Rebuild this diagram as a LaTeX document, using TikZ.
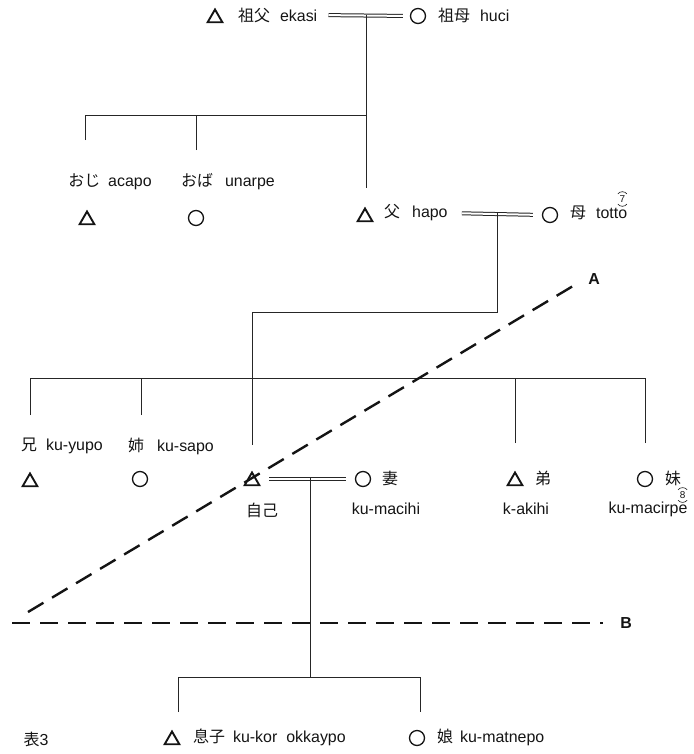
\documentclass[tikz,border=0pt]{standalone}
\usepackage{fontspec}
\setmainfont{Liberation Sans}
\newfontfamily\jpfont{Noto Sans CJK JP}
\newcommand{\jp}[1]{{\jpfont #1}}
\usetikzlibrary{shapes.geometric,calc}
\definecolor{cInk}{HTML}{141414}
\definecolor{cLine}{HTML}{262626}
\tikzset{
  male/.style   = {regular polygon, regular polygon sides=3, draw=cInk,
                   line width=1.9bp, minimum size=17bp, inner sep=0pt},
  female/.style = {circle, draw=cInk, line width=1.3bp, minimum size=15bp,
                   inner sep=0pt},
  lbl/.style    = {font=\fontsize{16}{18}\selectfont, text=cInk,
                   inner sep=0pt},
  kin/.style    = {draw=cLine, line width=0.9bp},
  marr/.style   = {draw=cLine, line width=1bp, double, double distance=2bp},
  cut/.style    = {draw=cInk, line width=2.4bp, dash pattern=on 18bp off 10bp},
  cutlbl/.style = {font=\bfseries\fontsize{16}{18}\selectfont, text=cInk},
  tie/.style    = {draw=cInk, line width=0.6bp},
  tiny/.style   = {font=\fontsize{10}{11}\selectfont, text=cInk,
                   inner sep=1.5bp},
}
\begin{document}
\begin{tikzpicture}[x=1bp, y=-1bp]
  \useasboundingbox (0,0) rectangle (694,754);
  % ---- grandparents ----
  \node[male] (gf) at (215,18) {};
  \node[lbl, anchor=west] (gfl) at (238,15) {\jp{祖父}\hspace{10bp}ekasi};
  \node[female] (gm) at (418,16) {};
  \node[lbl, anchor=west] (gml) at (438,15) {\jp{祖母}\hspace{10bp}huci};
  \draw[marr, shorten <=11bp, shorten >=7bp] (gfl.east) -- (gm.west);
  \coordinate (m1) at (366,15);
  % ---- uncle / aunt ----
  \node[lbl] (ul) at (110,182) {\jp{おじ}\hspace{8bp}acapo};
  \node[male] (u) at (87,220) {};
  \node[lbl] (al) at (228,182) {\jp{おば}\hspace{12bp}unarpe};
  \node[female] (a) at (196,218) {};
  \coordinate (j1) at (0,115);
  \coordinate (u1) at (85,140);
  \coordinate (a1) at (196,150);
  \coordinate (f1) at (0,188);
  \draw[kin] (m1) -- (m1|-f1);
  \draw[kin] (u1) -- (u1|-j1) -- (m1|-j1);
  \draw[kin] (a1) -- (a1|-j1);
  % ---- parents ----
  \node[male] (fa) at (365,217) {};
  \node[lbl, anchor=west] (fal) at (384,213) {\jp{父}\hspace{12bp}hapo};
  \node[female] (mo) at (550,215) {};
  \node[lbl, anchor=west] (mol) at (570,213) {\jp{母}\hspace{10bp}totto};
  \draw[marr, shorten <=14bp, shorten >=9bp] (fal.east) -- (mo.west);
  \coordinate (m2) at (497,213);
  \node[tiny] (n7) at ($(mol.east)+(-5,-14)$) {7};
  \draw[tie] ($(n7.north)+(-4.5,0)$) to[bend left=55] ($(n7.north)+(4.5,0)$);
  \draw[tie] ($(n7.south)+(-4.5,0)$) to[bend right=55] ($(n7.south)+(4.5,0)$);
  % ---- siblings ----
  \coordinate (sb) at (0,378);
  \coordinate (e1) at (30,415);
  \coordinate (e2) at (141,415);
  \coordinate (e3) at (515,443);
  \coordinate (e4) at (645,443);
  \coordinate (eu) at (252,445);
  \draw[kin] (m2) -- ++(0,99) -| (eu);
  \draw[kin] (e1|-sb) -- (e4|-sb);
  \foreach \c in {e1,e2,e3,e4}
    \draw[kin] (\c) -- (\c|-sb);
  \node[lbl] (bl) at (62,446) {\jp{兄}\hspace{9bp}ku-yupo};
  \node[male] (br) at (30,482) {};
  \node[lbl] (sl) at (171,446) {\jp{姉}\hspace{13bp}ku-sapo};
  \node[female] (si) at (140,479) {};
  % ego and wife
  \node[male] (ego) at (252,481) {};
  \node[lbl] (egol) at (262,510) {\jp{自己}};
  \node[female] (wi) at (363,479) {};
  \node[lbl, anchor=west] (wil) at (382,478) {\jp{妻}};
  \node[lbl] (wil2) at (386,509) {ku-macihi};
  \draw[marr, shorten <=11bp, shorten >=9bp] (ego.east|-wi) -- (wi.west);
  \coordinate (m3) at (310,477);
  % younger brother / sister
  \node[male] (yb) at (515,481) {};
  \node[lbl, anchor=west] (ybl) at (535,478) {\jp{弟}};
  \node[lbl] (ybl2) at (526,509) {k-akihi};
  \node[female] (ys) at (645,479) {};
  \node[lbl, anchor=west] (ysl) at (665,478) {\jp{妹}};
  \node[lbl] (ysl2) at (648,509) {ku-macirpe};
  \node[tiny] (n8) at ($(ysl2.east)+(-5,-14)$) {8};
  \draw[tie] ($(n8.north)+(-4.5,0)$) to[bend left=55] ($(n8.north)+(4.5,0)$);
  \draw[tie] ($(n8.south)+(-4.5,0)$) to[bend right=55] ($(n8.south)+(4.5,0)$);
  % ---- children ----
  \coordinate (cb) at (0,677);
  \coordinate (c1) at (178,712);
  \coordinate (c2) at (420,712);
  \draw[kin] (m3) -- (m3|-cb);
  \draw[kin] (c1) -- (c1|-cb) -- (c2|-cb) -- (c2);
  \node[male] (son) at (172,740) {};
  \node[lbl, anchor=west] (sonl) at (193,737)
    {\jp{息子}\hspace{8bp}ku-kor\hspace{9bp}okkaypo};
  \node[female] (da) at (417,738) {};
  \node[lbl, anchor=west] (dal) at (437,737) {\jp{娘}\hspace{7bp}ku-matnepo};
  \node[lbl] (tab) at (36,739) {\jp{表}3};
  % ---- cut lines A and B ----
  \node[cutlbl] (A) at (594,279) {A};
  \node[cutlbl] (B) at (626,623) {B};
  \coordinate (A0) at (28,612);
  \coordinate (B0) at (12,623);
  \draw[cut, shorten >=8bp] (A0) -- (A.west);
  \draw[cut, shorten >=14bp] (B0) -- (B.west);
\end{tikzpicture}
\end{document}
